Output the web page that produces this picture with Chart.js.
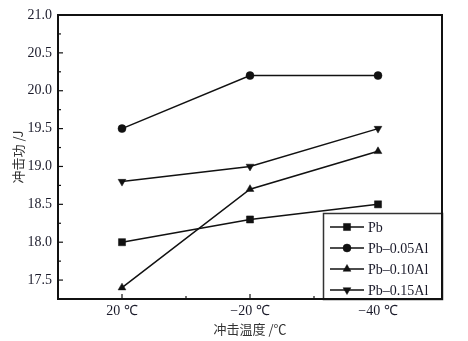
<!DOCTYPE html>
<html>
<head>
<meta charset="utf-8">
<script src="https://cdn.jsdelivr.net/npm/chart.js@4/dist/chart.umd.min.js"></script>
<style>
  html, body { margin: 0; padding: 0; background: #fff; }
  #wrap { width: 468px; height: 341px; }
</style>
</head>
<body>
<div id="wrap"><canvas id="chart"></canvas></div>
<script>
// data
var categories = ['20 \u2103', '\u221220 \u2103', '\u221240 \u2103'];
var seriesNames = ['Pb', 'Pb\u20130.05Al', 'Pb\u20130.10Al', 'Pb\u20130.15Al'];
var pb      = [18.0, 18.3, 18.5];
var pb005al = [19.5, 20.2, 20.2];
var pb010al = [17.4, 18.7, 19.2];
var pb015al = [18.8, 19.0, 19.5];
var yTicks  = [17.5, 18.0, 18.5, 19.0, 19.5, 20.0, 20.5, 21.0];

var markers = ['rect', 'circle', 'triangle', 'triangle'];
var rotations = [0, 0, 0, 180];
var radii = [5, 4, 4.5, 4.5];
var allValues = [pb, pb005al, pb010al, pb015al];

function toPoints(arr){
    var pts = [];
    for (var i = 0; i < arr.length; i++) pts.push({x: i, y: arr[i]});
    return pts;
}

var datasets = [];
for (var s = 0; s < allValues.length; s++) {
    datasets.push({
        label: seriesNames[s],
        data: toPoints(allValues[s]),
        borderColor: '#111',
        backgroundColor: '#111',
        borderWidth: 1.5,
        pointBorderWidth: 0.5,
        pointStyle: markers[s],
        rotation: rotations[s],
        pointRadius: radii[s],
        pointHoverRadius: radii[s],
        tension: 0
    });
}

var serif = '"Liberation Serif", "Times New Roman", serif';
var cjk = '"Noto Sans CJK SC", sans-serif';

// frame, inward ticks and legend box
var framePlugin = {
    id: 'frame',
    afterDraw: function(chart){
        var ctx = chart.ctx;
        var a = chart.chartArea;
        var xs = chart.scales.x, ys = chart.scales.y;
        ctx.save();
        ctx.strokeStyle = '#111';
        ctx.lineWidth = 1.2;
        // y ticks
        for (var v = 17.25; v <= 21.0001; v += 0.25) {
            var py = ys.getPixelForValue(v);
            var major = Math.abs(v * 2 - Math.round(v * 2)) < 1e-6;
            ctx.beginPath();
            ctx.moveTo(a.left, py);
            ctx.lineTo(a.left + (major ? 5 : 3), py);
            ctx.stroke();
        }
        // x ticks
        for (var k = 0; k <= 2; k += 0.5) {
            var px = xs.getPixelForValue(k);
            var maj = k % 1 === 0;
            ctx.beginPath();
            ctx.moveTo(px, a.bottom);
            ctx.lineTo(px, a.bottom - (maj ? 5 : 3));
            ctx.stroke();
        }
        // legend
        var lw = 119, lh = 86;
        var lx = a.right - lw, ly = a.bottom - lh;
        ctx.fillStyle = '#fff';
        ctx.fillRect(lx, ly, lw, lh);
        ctx.strokeStyle = '#333';
        ctx.lineWidth = 1.5;
        ctx.strokeRect(lx + 0.5, ly + 0.5, lw, lh);
        ctx.font = '14px ' + serif;
        ctx.textBaseline = 'middle';
        ctx.textAlign = 'left';
        for (var i = 0; i < datasets.length; i++) {
            var cy = ly + 14 + i * 21;
            ctx.strokeStyle = '#111';
            ctx.fillStyle = '#111';
            ctx.lineWidth = 1.5;
            ctx.beginPath();
            ctx.moveTo(lx + 7, cy);
            ctx.lineTo(lx + 41, cy);
            ctx.stroke();
            ctx.lineWidth = 0.5;
            Chart.helpers.drawPoint(ctx, {
                pointStyle: markers[i], rotation: rotations[i],
                radius: radii[i], borderWidth: 0.5
            }, lx + 24, cy);
            ctx.fillStyle = '#1a1a2a';
            ctx.fillText(seriesNames[i], lx + 45, cy + 1);
        }
        // plot frame
        ctx.strokeStyle = '#111';
        ctx.lineWidth = 2;
        ctx.strokeRect(a.left, a.top, a.right - a.left, a.bottom - a.top);
        ctx.restore();
    }
};

var ctx = document.getElementById('chart');
var chart = new Chart(ctx, {
    type: 'line',
    data: { datasets: datasets },
    options: {
        responsive: true,
        maintainAspectRatio: false,
        animation: false,
        layout: { padding: { left: 0, top: 15, right: 26, bottom: 0 } },
        plugins: {
            legend: { display: false },
            tooltip: { enabled: false }
        },
        scales: {
            x: {
                type: 'linear',
                min: -0.5,
                max: 2.5,
                afterBuildTicks: function(scale){
                    scale.ticks = [{value: 0}, {value: 1}, {value: 2}];
                },
                afterFit: function(scale){ scale.height = 42; },
                grid: { display: false, drawTicks: false },
                border: { display: false },
                ticks: {
                    padding: 4,
                    color: '#1a1a2a',
                    font: { family: serif, size: 14 },
                    callback: function(v){ return categories[v]; }
                },
                title: {
                    display: true,
                    text: '\u51b2\u51fb\u6e29\u5ea6 /\u2103',
                    color: '#333',
                    padding: { top: 2, bottom: 4 },
                    font: { family: cjk, size: 13 }
                }
            },
            y: {
                min: 17.25,
                max: 21.0,
                afterBuildTicks: function(scale){
                    scale.ticks = yTicks.map(function(v){ return {value: v}; });
                },
                afterFit: function(scale){ scale.width = 58; },
                grid: { display: false, drawTicks: false },
                border: { display: false },
                ticks: {
                    padding: 6,
                    color: '#1a1a2a',
                    font: { family: serif, size: 14 },
                    callback: function(v){ return v.toFixed(1); }
                },
                title: {
                    display: true,
                    text: '\u51b2\u51fb\u529f /J',
                    color: '#333',
                    padding: { top: 10, bottom: 2 },
                    font: { family: cjk, size: 13 }
                }
            }
        }
    },
    plugins: [framePlugin]
});
</script>
</body>
</html>
